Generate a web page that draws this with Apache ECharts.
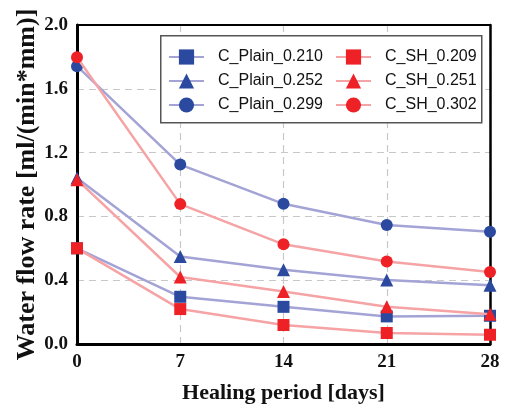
<!DOCTYPE html>
<html>
<head>
<meta charset="utf-8">
<script src="https://cdn.jsdelivr.net/npm/echarts@6/dist/echarts.min.js"></script>
<style>html,body{margin:0;padding:0;background:#fff;}#c{width:508px;height:409px;}</style>
</head>
<body>
<div id="c"></div>
<script>
var days = [0, 7, 14, 21, 28];
var yTicks = [0, 0.4, 0.8, 1.2, 1.6, 2.0];
var names = ['C_Plain_0.210', 'C_Plain_0.252', 'C_Plain_0.299', 'C_SH_0.209', 'C_SH_0.251', 'C_SH_0.302'];
var plain210 = [0.60, 0.296, 0.233, 0.173, 0.177];
var plain252 = [1.04, 0.548, 0.465, 0.402, 0.369];
var plain299 = [1.742, 1.125, 0.879, 0.746, 0.704];
var sh209 = [0.60, 0.219, 0.119, 0.069, 0.058];
var sh251 = [1.03, 0.42, 0.329, 0.233, 0.187];
var sh302 = [1.798, 0.877, 0.625, 0.517, 0.452];

var seriesValues = [plain210, plain252, plain299, sh209, sh251, sh302];
var symbols = ['rect', 'triangle', 'circle', 'rect', 'triangle', 'circle'];
var blueMark = '#2B4A9F', blueLine = '#A3A3D6';
var redMark = '#EE2226', redLine = '#F5A3A5';

function pairs(vals) { return days.map(function (d, i) { return [d, vals[i]]; }); }

var series = seriesValues.map(function (vals, k) {
  var isBlue = k < 3;
  return {
    name: names[k],
    type: 'line',
    xAxisIndex: 0, yAxisIndex: 0,
    data: pairs(vals),
    symbol: symbols[k],
    symbolSize: symbols[k] === 'triangle' ? 13 : 12,
    showAllSymbol: true,
    lineStyle: { color: isBlue ? blueLine : redLine, width: 2.5 },
    itemStyle: { color: isBlue ? blueMark : redMark },
    emphasis: { disabled: true },
    z: isBlue ? 3 : 4
  };
});

var serif = 'Liberation Serif, Times New Roman, serif';
var chart = echarts.init(document.getElementById('c'), null, { renderer: 'canvas' });
var legendText = { fontFamily: 'Liberation Sans, Arial, sans-serif', fontSize: 16, color: '#111', lineHeight: 16, padding: [0, 0, 0, 9] };
var split = { show: true, lineStyle: { color: '#C8C8C8', type: [7, 5], width: 1.2 } };
chart.setOption({
  animation: false,
  backgroundColor: '#fff',
  grid: { left: 77, right: 18, top: 25, bottom: 64, show: false },
  xAxis: [{
    type: 'value', min: 0, max: 28, interval: 7, position: 'bottom', z: 0,
    name: 'Healing period [days]', nameLocation: 'middle', nameGap: 38,
    nameTextStyle: { fontFamily: serif, fontWeight: 'bold', fontSize: 22, color: '#111' },
    axisLine: { lineStyle: { color: '#000', width: 3 } },
    axisTick: { show: false },
    axisLabel: { margin: 9, fontFamily: serif, fontWeight: 'bold', fontSize: 19, color: '#111' },
    splitLine: split
  }, {
    type: 'value', min: 0, max: 28, interval: 7, position: 'top', z: 1,
    axisLine: { show: true, onZero: false, lineStyle: { color: '#000', width: 2 } },
    axisTick: { show: false }, axisLabel: { show: false }, splitLine: { show: false }
  }],
  yAxis: [{
    type: 'value', min: 0, max: 2, interval: 0.4, position: 'left', z: 0,
    name: 'Water flow rate [ml/(min*mm)]', nameLocation: 'middle', nameGap: 37, nameMoveOverlap: false,
    nameTextStyle: { fontFamily: serif, fontWeight: 'bold', fontSize: 26, color: '#111' },
    axisLine: { lineStyle: { color: '#000', width: 3 } },
    axisTick: { show: false },
    axisLabel: { margin: 9, fontFamily: serif, fontWeight: 'bold', fontSize: 19, color: '#111',
      formatter: function (v) { return v.toFixed(1); } },
    splitLine: split
  }, {
    type: 'value', min: 0, max: 2, interval: 0.4, position: 'right', z: 1,
    axisLine: { show: true, onZero: false, lineStyle: { color: '#000', width: 2.5 } },
    axisTick: { show: false }, axisLabel: { show: false }, splitLine: { show: false }
  }],
  graphic: [{
    type: 'rect', left: 160, top: 35, z: 50,
    shape: { width: 321, height: 87 },
    style: { fill: '#fff', stroke: '#555', lineWidth: 1.5 }
  }],
  legend: [{
    data: names.slice(0, 3), orient: 'vertical', left: 168, top: 49, padding: 0,
    itemWidth: 35, itemHeight: 19, itemGap: 8, textStyle: legendText, z: 60, selectedMode: false
  }, {
    data: names.slice(3), orient: 'vertical', left: 335, top: 49, padding: 0,
    itemWidth: 35, itemHeight: 19, itemGap: 8, textStyle: legendText, z: 60, selectedMode: false
  }],
  series: series
});
</script>
</body>
</html>
